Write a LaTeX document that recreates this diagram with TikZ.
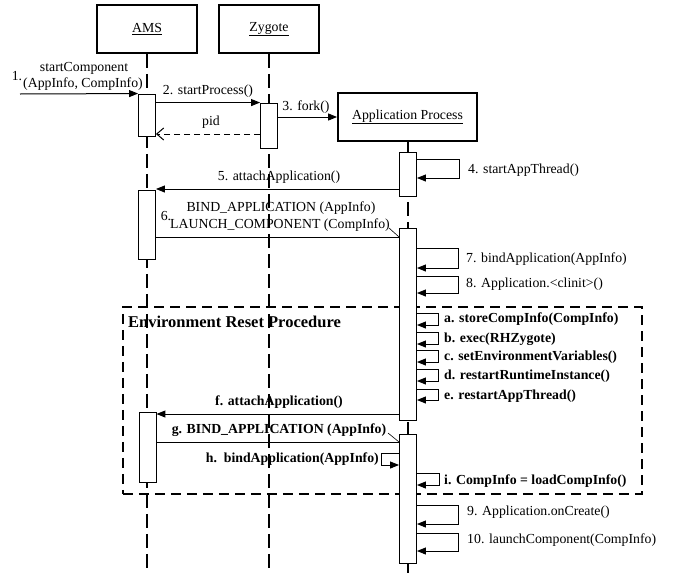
\documentclass[tikz,border=0pt]{standalone}
\usepackage{fontspec}
\setmainfont{Liberation Serif}
\usetikzlibrary{arrows.meta}
\newcommand\normsz{\fontsize{13.8}{16}\selectfont}
\newcommand\titlesz{\fontsize{16.5}{19}\selectfont}
\tikzset{
  obj/.style={draw, line width=1.8pt, inner sep=0, fill=white},
  act/.style={draw, line width=0.9pt, fill=white, inner sep=0, minimum width=17pt},
  life/.style={line width=2pt, dash pattern=on 14pt off 6pt},
  msg/.style={line width=1pt, -{Triangle[length=9pt,width=7pt]}},
  plainmsg/.style={line width=1pt},
  retmsg/.style={line width=1pt, dash pattern=on 6pt off 4pt, -{Straight Barb[length=7pt,width=12pt]}},
  lbl/.style={inner sep=0, font=\normsz},
  blbl/.style={inner sep=0, font=\normsz\bfseries},
  envframe/.style={draw, line width=1.6pt, dash pattern=on 10pt off 6pt, inner sep=0},
}
\begin{document}
\begin{tikzpicture}[x=1pt,y=-1pt]
\useasboundingbox (0,0) rectangle (674,573);
% objects
\node[obj, minimum width=100pt, minimum height=48pt] (ams) at (147,29) {\normsz\underline{AMS}};
\node[obj, minimum width=100pt, minimum height=48pt] (zyg) at (269,29) {\normsz\underline{Zygote}};
\node[obj, minimum width=139pt, minimum height=48pt] (app) at (407.5,117) {\normsz\underline{Application Process}};
% lifeline ends
\coordinate (amsend) at (147,573);
\coordinate (zygend) at (269,573);
\coordinate (append) at (408,573);
\draw[life] (ams.south) -- (amsend);
\draw[life] (zyg.south) -- (zygend);
\draw[life] (app.south -| append) -- (append);
% frame
\node[envframe, minimum width=519pt, minimum height=187pt, anchor=north west] (env) at (122,306) {};
\node[inner sep=0, font=\titlesz\bfseries, anchor=west] (envt) at (128,322) {Environment Reset Procedure};
% activations
\node[act, minimum height=42pt] (a1) at (147,115) {};
\node[act, minimum height=45pt] (z1) at (269,125.5) {};
\node[act, minimum height=44pt] (p1) at (408,174) {};
\node[act, minimum height=69pt] (a2) at (147,224.5) {};
\node[act, minimum height=192pt] (p2) at (408,324) {};
\node[act, minimum height=70pt] (a3) at (147.5,447) {};
\node[act, minimum height=129pt] (p3) at (408,498.5) {};
% 1
\coordinate (start) at (20,94);
\draw[msg] (start) -- (a1.north west);
\node[lbl] (l1a) at (84,68) {startComponent};
\node[lbl] (l1b) at (83,84) {(AppInfo, CompInfo)};
\node[lbl] (l1n) at (17,76) {1.};
% 2
\draw[msg] (a1.east |- z1.north) -- (z1.north west);
\node[lbl] (l2) at (208,91) {2. startProcess()};
% 3
\draw[msg] (z1.east |- app.west) -- (app.west);
\node[lbl] (l3) at (306,107) {3. fork()};
% pid
\coordinate (ypid) at (0,134);
\draw[retmsg] (z1.west |- ypid) -- (a1.east |- ypid);
\node[lbl] (lpid) at (211,122) {pid};
% 4
\coordinate (y4a) at (459,159);
\coordinate (y4b) at (459,178);
\draw[msg] (p1.east |- y4a) -- (y4a) -- (y4b) -- (p1.east |- y4b);
\node[lbl, anchor=west] (l4) at (468,170) {4. startAppThread()};
% 5
\coordinate (y5) at (0,189);
\draw[msg] (p1.west |- y5) -- (a2.east |- y5);
\node[lbl] (l5) at (279,177) {5. attachApplication()};
% 6
\coordinate (y6) at (0,237);
\draw[plainmsg] (a2.east |- y6) -- (p2.west |- y6);
\coordinate (t6) at (389,228);
\draw[line width=0.6pt] (t6) -- (p2.west |- y6);
\node[lbl] (l6n) at (166,216) {6.};
\node[lbl] (l6a) at (281,208) {BIND\_APPLICATION (AppInfo)};
\node[lbl] (l6b) at (280,225) {LAUNCH\_COMPONENT (CompInfo)};
% 7
\coordinate (y7a) at (458,248);
\coordinate (y7b) at (458,268);
\draw[msg] (p2.east |- y7a) -- (y7a) -- (y7b) -- (p2.east |- y7b);
\node[lbl, anchor=west] (l7) at (466,259) {7. bindApplication(AppInfo)};
% 8
\coordinate (y8a) at (458,276);
\coordinate (y8b) at (458,293);
\draw[msg] (p2.east |- y8a) -- (y8a) -- (y8b) -- (p2.east |- y8b);
\node[lbl, anchor=west] (l8) at (466,284) {8. Application.<clinit>()};
% a-e
\coordinate (yaa) at (438,313); \coordinate (yab) at (438,325);
\draw[msg] (p2.east |- yaa) -- (yaa) -- (yab) -- (p2.east |- yab);
\node[blbl, anchor=west] (la) at (444,319) {a. storeCompInfo(CompInfo)};
\coordinate (yba) at (438,332); \coordinate (ybb) at (438,344);
\draw[msg] (p2.east |- yba) -- (yba) -- (ybb) -- (p2.east |- ybb);
\node[blbl, anchor=west] (lb) at (444,339) {b. exec(RHZygote)};
\coordinate (yca) at (438,350); \coordinate (ycb) at (438,362);
\draw[msg] (p2.east |- yca) -- (yca) -- (ycb) -- (p2.east |- ycb);
\node[blbl, anchor=west] (lc) at (444,357) {c. setEnvironmentVariables()};
\coordinate (yda) at (438,369); \coordinate (ydb) at (438,381);
\draw[msg] (p2.east |- yda) -- (yda) -- (ydb) -- (p2.east |- ydb);
\node[blbl, anchor=west] (ld) at (444,376) {d. restartRuntimeInstance()};
\coordinate (yea) at (438,389); \coordinate (yeb) at (438,400);
\draw[msg] (p2.east |- yea) -- (yea) -- (yeb) -- (p2.east |- yeb);
\node[blbl, anchor=west] (le) at (444,396) {e. restartAppThread()};
% f
\coordinate (yf) at (0,414);
\draw[msg] (p2.west |- yf) -- (a3.east |- yf);
\node[blbl] (lf) at (279,402) {f. attachApplication()};
% g
\coordinate (yg) at (0,442);
\draw[plainmsg] (a3.east |- yg) -- (p3.west |- yg);
\coordinate (tg) at (388,433);
\draw[line width=0.6pt] (tg) -- (p3.west |- yg);
\node[blbl] (lg) at (279,430) {g. BIND\_APPLICATION (AppInfo)};
% h
\coordinate (yha) at (381,453); \coordinate (yhb) at (381,465);
\draw[msg] (p3.west |- yha) -- (yha) -- (yhb) -- (p3.west |- yhb);
\node[blbl, anchor=east] (lh) at (379,459) {h.\ \ bindApplication(AppInfo)};
% i
\coordinate (yia) at (439,473); \coordinate (yib) at (439,485);
\draw[msg] (p3.east |- yia) -- (yia) -- (yib) -- (p3.east |- yib);
\node[blbl, anchor=west] (li) at (444,481) {i. CompInfo = loadCompInfo()};
% 9
\coordinate (y9a) at (458,505); \coordinate (y9b) at (458,524);
\draw[msg] (p3.east |- y9a) -- (y9a) -- (y9b) -- (p3.east |- y9b);
\node[lbl, anchor=west] (l9) at (467,512) {9. Application.onCreate()};
% 10
\coordinate (y10a) at (458,533); \coordinate (y10b) at (458,551);
\draw[msg] (p3.east |- y10a) -- (y10a) -- (y10b) -- (p3.east |- y10b);
\node[lbl, anchor=west] (l10) at (467,540) {10. launchComponent(CompInfo)};
\end{tikzpicture}
\end{document}
